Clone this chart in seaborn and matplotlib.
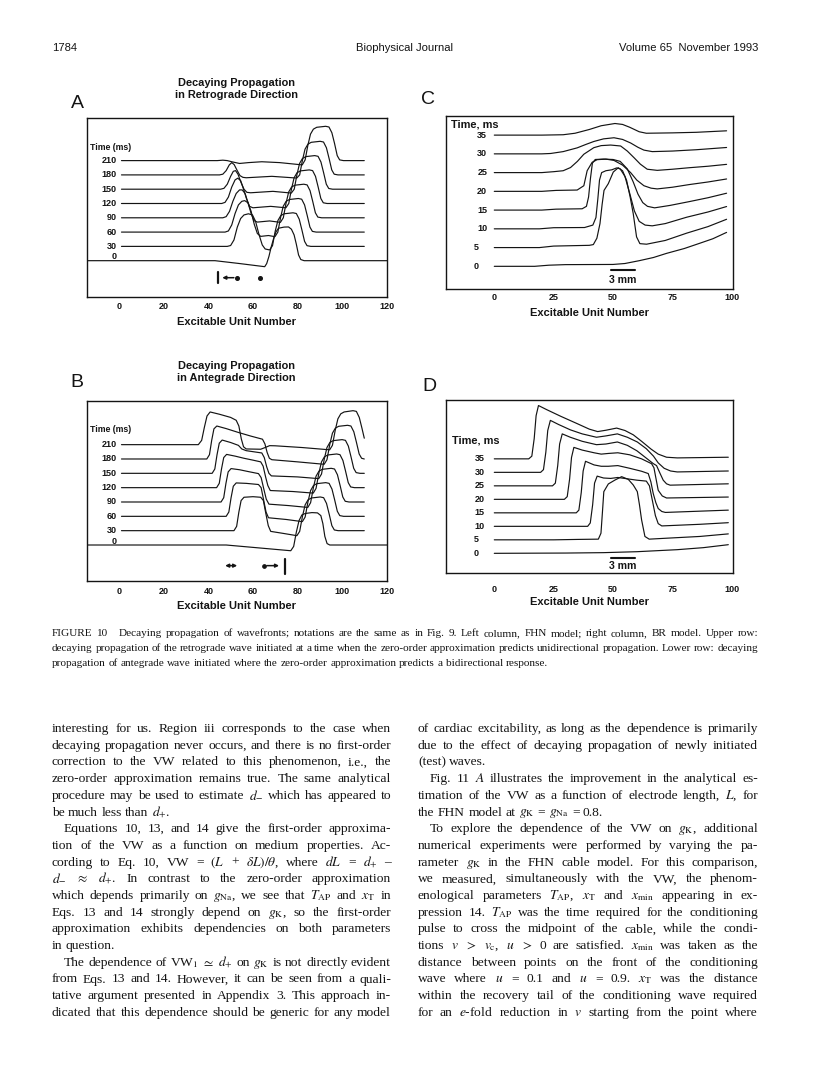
import numpy as np
import pandas as pd
import matplotlib
matplotlib.use('Agg')
import matplotlib.pyplot as plt
import seaborn as sns

W, H = 816, 1086
INK = '#141414'
SANS = ['Liberation Sans', 'DejaVu Sans']
SERIF = ['Liberation Serif', 'DejaVu Serif']

# ---------------- panel A: FHN, retrograde (x = unit, v = height above own baseline)
A_TIMES = ['0', '30', '60', '90', '120', '150', '180', '210']
A_0 = [(-14.7, 0), (43, 0), (54, -0.2), (65.3, -0.42), (66.2, -0.2), (67.2, 0.3), (68.2, 0.95),
       (69.3, 1.55), (70.3, 2.0), (71.5, 2.27), (74, 2.35), (76, 2.36), (77.3, 2.2), (78.5, 1.8),
       (79.5, 1.15), (80.5, 0.4), (81.5, 0.08), (83, 0), (120.2, 0)]
A_30 = [(1, 0), (48.5, 0), (50, 0.06), (51.5, 0.45), (53, 1.35), (54.5, 1.95), (56, 2.2), (58, 2.28),
        (59.8, 2.2), (61.2, 1.75), (62.7, 0.85), (64.2, 0.1), (65.5, -0.18), (67.5, -0.25), (68.8, 0.05),
        (70, 1.05), (71.2, 1.8), (72.5, 2.15), (74, 2.28), (78, 2.35), (79.5, 2.3), (80.8, 1.9), (82, 1.15),
        (83.2, 0.35), (84.3, 0.05), (86, 0), (110, 0)]
A_60 = [(1, 0), (47.5, 0), (49, 0.08), (50.5, 0.5), (52, 1.3), (53.5, 1.9), (55, 2.15), (56.3, 2.2),
        (57.8, 2.05), (59.2, 1.45), (60.6, 0.55), (62, -0.1), (63.5, -0.3), (67, -0.24), (69.9, -0.32),
        (71.2, 0.0), (72.4, 1.0), (73.6, 1.8), (74.9, 2.15), (76.4, 2.28), (80.4, 2.35), (81.9, 2.3),
        (83.2, 1.9), (84.4, 1.15), (85.6, 0.35), (86.7, 0.05), (88.4, 0), (110, 0)]
A_90 = [(1, 0), (46.5, 0), (48, 0.08), (49.5, 0.45), (51, 1.15), (52.5, 1.7), (54, 1.95), (55.2, 1.95),
        (56.5, 1.7), (57.8, 1.05), (59.2, 0.3), (60.5, -0.2), (62, -0.3), (67.5, -0.22), (72.35, -0.32),
        (73.65, 0.0), (74.85, 1.0), (76.05, 1.8), (77.35, 2.15), (78.85, 2.28), (82.85, 2.35),
        (84.35, 2.3), (85.65, 1.9), (86.85, 1.15), (88.05, 0.35), (89.15, 0.05), (90.85, 0), (110, 0)]
A_120 = [(1, 0), (46, 0), (47.5, 0.08), (49, 0.45), (50.5, 1.15), (52, 1.65), (53.2, 1.77), (54.5, 1.6),
         (55.8, 1.0), (57.2, 0.3), (58.5, -0.2), (60, -0.3), (68, -0.2), (74.8, -0.3), (76.1, 0.0),
         (77.3, 1.0), (78.5, 1.8), (79.8, 2.15), (81.3, 2.28), (85.3, 2.35), (86.8, 2.3), (88.1, 1.9),
         (89.3, 1.15), (90.5, 0.35), (91.6, 0.05), (93.3, 0), (110, 0)]
A_150 = [(1, 0), (45.5, 0), (47, 0.06), (48.5, 0.35), (50, 0.9), (51.2, 1.25), (52.2, 1.3), (53.3, 1.05),
         (54.6, 0.5), (56, 0.0), (57.3, -0.22), (59, -0.25), (69, -0.15), (77.25, -0.27), (78.55, 0.0),
         (79.75, 1.0), (80.95, 1.8), (82.25, 2.15), (83.75, 2.28), (87.75, 2.35), (89.25, 2.3),
         (90.55, 1.9), (91.75, 1.15), (92.95, 0.35), (94.05, 0.05), (95.75, 0), (110, 0)]
A_180 = [(1, 0), (45, 0), (46.5, 0.05), (48, 0.3), (49.4, 0.7), (50.5, 0.86), (51.6, 0.72), (52.8, 0.35),
         (54.2, -0.05), (55.5, -0.17), (57, -0.2), (68.5, -0.1), (79.7, -0.22), (81, 0.0), (82.2, 1.0),
         (83.4, 1.8), (84.7, 2.15), (86.2, 2.28), (90.2, 2.35), (91.7, 2.3), (93, 1.9), (94.2, 1.15),
         (95.4, 0.35), (96.5, 0.05), (98.2, 0), (110, 0)]
A_210 = [(1, 0), (44, 0), (46.5, 0.03), (48.5, 0.0), (50.5, -0.08), (54, -0.2), (58, -0.14), (64, -0.08),
         (72, -0.14), (82.15, -0.3), (83.45, 0.05), (84.65, 1.05), (85.85, 1.85), (87.15, 2.2),
         (88.65, 2.33), (92.65, 2.4), (94.15, 2.35), (95.45, 1.95), (96.65, 1.2), (97.85, 0.35),
         (98.95, 0.05), (100.65, 0), (110, 0)]

# ---------------- panel B: FHN, antegrade
B_0 = [(-14.7, 0), (48, 0), (77, -0.4), (78.3, -0.1), (79.5, 0.9), (80.7, 1.7), (82, 2.1), (83.5, 2.2),
       (86.5, 2.26), (89, 2.24), (90.5, 2.05), (91.4, 1.5), (92.3, 0.6), (93.3, 0.1), (94.5, 0), (120.2, 0)]
B_30 = [(1, 0), (51.5, 0), (52.7, 0.3), (53.7, 1.3), (54.7, 2.1), (56, 2.33), (60, 2.37), (63.5, 2.33),
        (64.7, 2.1), (65.8, 1.2), (66.9, 0.35), (68, -0.05), (74, -0.2), (79.75, -0.35), (81, -0.05),
        (82.25, 1.0), (83.45, 1.8), (84.75, 2.15), (86.25, 2.28), (90.25, 2.35), (91.75, 2.3),
        (93.05, 1.9), (94.25, 1.15), (95.45, 0.35), (96.55, 0.05), (98.25, 0), (110, 0)]
B_60 = [(1, 0), (48, 0), (49.2, 0.3), (50.2, 1.3), (51.2, 2.1), (52.5, 2.33), (57, 2.3), (62.5, 2.22),
        (63.7, 2.0), (64.8, 1.15), (65.9, 0.3), (67, -0.1), (75, -0.22), (82.2, -0.37), (83.45, -0.05),
        (84.7, 1.0), (85.9, 1.8), (87.2, 2.15), (88.7, 2.28), (92.7, 2.35), (94.2, 2.3), (95.5, 1.9),
        (96.7, 1.15), (97.9, 0.35), (99, 0.05), (100.7, 0), (110, 0)]
B_90 = [(1, 0), (45.7, 0), (46.9, 0.3), (47.9, 1.3), (48.9, 2.1), (50.2, 2.33), (54, 2.25), (58, 2.12),
        (62.5, 1.98), (63.7, 1.7), (64.9, 0.9), (66, 0.2), (67.2, -0.15), (76, -0.25), (84.65, -0.38),
        (85.9, -0.05), (87.15, 1.0), (88.35, 1.8), (89.65, 2.15), (91.15, 2.28), (95.15, 2.35),
        (96.65, 2.3), (97.95, 1.9), (99.15, 1.15), (100.35, 0.35), (101.45, 0.05), (103.15, 0), (110, 0)]
B_120 = [(1, 0), (43.7, 0), (44.9, 0.3), (45.9, 1.3), (46.9, 2.1), (48.2, 2.32), (52, 2.2), (56, 2.05),
         (60, 1.92), (63.5, 1.8), (64.6, 1.5), (65.7, 0.75), (66.7, 0.15), (67.8, -0.2), (78, -0.27),
         (87.1, -0.38), (88.35, -0.05), (89.6, 1.0), (90.8, 1.8), (92.1, 2.15), (93.6, 2.28), (97.6, 2.35),
         (99.1, 2.3), (100.4, 1.9), (101.6, 1.15), (102.8, 0.35), (103.9, 0.05), (105.6, 0), (110, 0)]
B_150 = [(1, 0), (41.7, 0), (42.9, 0.3), (43.9, 1.3), (44.9, 2.1), (46.2, 2.32), (50, 2.15), (53.5, 1.95),
         (55, 1.7), (57, 1.58), (64, 1.42), (65.1, 1.1), (66.2, 0.45), (67.2, 0.0), (68.3, -0.18),
         (80, -0.25), (89.55, -0.37), (90.8, -0.05), (92.05, 1.0), (93.25, 1.8), (94.55, 2.15),
         (96.05, 2.28), (100.05, 2.35), (101.55, 2.3), (102.85, 1.9), (104.05, 1.15), (105.25, 0.35),
         (106.35, 0.05), (108.05, 0), (110, 0)]
B_180 = [(1, 0), (39.3, 0), (40.5, 0.3), (41.5, 1.3), (42.5, 2.1), (43.8, 2.3), (48, 2.12), (53.5, 1.85),
         (59, 1.6), (64.3, 1.38), (65.4, 1.05), (66.4, 0.45), (67.4, 0.05), (68.5, -0.05), (80, -0.2),
         (92, -0.37), (93.25, -0.05), (94.5, 1.0), (95.7, 1.8), (97, 2.15), (98.5, 2.28), (102.5, 2.35),
         (104, 2.3), (105.3, 1.9), (106.5, 1.15), (107.7, 0.35), (108.8, 0.05), (110, 0)]
B_210 = [(1, 0), (35.5, 0), (37, 0.3), (38.2, 1.2), (39.4, 2.0), (40.8, 2.28), (45, 2.12), (50, 1.9),
         (52.5, 1.7), (53.7, 1.3), (54.8, 0.4), (55.8, -0.15), (57, -0.3), (63.5, -0.32), (65.5, -0.2),
         (67.5, -0.07), (70, -0.08), (82, -0.2), (94.45, -0.36), (95.7, -0.05), (96.95, 1.0),
         (98.15, 1.8), (99.45, 2.15), (100.95, 2.28), (104.95, 2.37), (106.45, 2.32), (107.75, 1.9),
         (108.95, 1.15), (110, 0.45)]

# ---------------- panel C: BR, retrograde
CD_TIMES = ['0', '5', '10', '15', '20', '25', '30', '35']
C_0 = [(0, 0), (17, 0), (23, 0.06), (30, 0.09), (50, 0.1), (55, 0.15), (61, 0.3), (67, 0.47),
       (72.5, 0.69), (80, 0.95), (86.5, 1.23), (92, 1.47), (97.8, 1.81)]
C_5 = [(0, 0), (19, 0), (25, 0.08), (40, 0.12), (41.7, 0.16), (43.2, 0.5), (44.5, 1.28), (45.4, 2.3),
       (46.2, 3.05), (48, 3.41), (50.1, 4.03), (52.2, 4.26), (54, 4.1), (55.7, 3.59), (57.2, 2.7),
       (58.5, 1.81), (59.9, 0.57), (61.3, 0.21), (64.1, 0.18), (72, 0.38), (81, 0.77), (90, 1.12),
       (97.8, 1.51)]
C_10 = [(0, 0), (19, 0), (25, 0.06), (38, 0.07), (41.5, 0.2), (42.8, 0.6), (43.6, 1.6), (44.3, 2.6),
        (45.2, 3.0), (47, 3.1), (49.5, 3.15), (51.5, 3.25), (53, 3.2), (55, 2.8), (57, 1.9), (59, 0.95),
        (61, 0.4), (63.5, 0.2), (66.5, 0.16), (72, 0.28), (81, 0.62), (90, 0.9), (97.8, 1.19)]
C_15 = [(0, 0), (20, 0), (26, 0.05), (37, 0.07), (38.8, 0.2), (39.7, 0.7), (40.5, 1.7), (41.3, 2.5),
        (42.5, 2.7), (46, 2.72), (50, 2.7), (53, 2.6), (56, 2.2), (58.5, 1.5), (60.5, 0.85), (62.5, 0.4),
        (64.5, 0.2), (67.5, 0.12), (74, 0.25), (82, 0.45), (90, 0.66), (97.8, 0.9)]
C_20 = [(0, 0), (20, 0), (26, 0.05), (34.9, 0.07), (37.7, 0.3), (39.1, 1.1), (41.2, 1.55), (43.3, 1.69),
        (47, 1.72), (50.4, 1.65), (54, 1.4), (57.4, 1.0), (60, 0.6), (63, 0.3), (66, 0.17), (68.6, 0.13),
        (75, 0.22), (82, 0.36), (90, 0.5), (97.8, 0.66)]
C_25 = [(0, 0), (20, 0), (25.1, 0.05), (29, 0.1), (32.1, 0.27), (35, 0.6), (37.7, 0.98), (41.9, 1.33),
        (45, 1.44), (49, 1.47), (53.2, 1.42), (56, 1.15), (58.8, 0.8), (61.5, 0.45), (64.4, 0.18),
        (68.6, 0.12), (75, 0.18), (82, 0.26), (90, 0.34), (97.8, 0.44)]
C_30 = [(0, 0), (20, 0), (23.7, 0.02), (29, 0.12), (34.9, 0.32), (38.5, 0.5), (41.9, 0.66), (46, 0.8),
        (50.4, 0.86), (54, 0.77), (57.4, 0.58), (60.5, 0.35), (63, 0.2), (66.5, 0.12), (75, 0.15),
        (85, 0.22), (97.8, 0.34)]
C_35 = [(0, 0), (20, 0), (29, 0.02), (34, 0.1), (40, 0.3), (45, 0.5), (50.8, 0.62), (54, 0.57),
        (57, 0.42), (61, 0.18), (64, 0.1), (75, 0.12), (85, 0.15), (97.8, 0.23)]

# ---------------- panel D: BR, antegrade
D_0 = [(0, 0), (30, 0.02), (46, 0.05), (60, 0.12), (77, 0.27), (88, 0.42), (98.5, 0.64)]
D_5 = [(0, 0), (25, 0), (35, 0.03), (43.8, 0.05), (44.9, 0.49), (45.5, 2.0), (46.1, 3.57), (48, 4.14),
       (50.8, 4.43), (53.6, 4.68), (56.4, 4.48), (58.5, 4.06), (60.2, 3.57), (61.1, 2.6), (62, 1.48),
       (63.4, 0.25), (65.2, 0.05), (72.5, 0.12), (86.5, 0.25), (98.5, 0.44)]
D_10 = [(0, 0), (39.3, 0), (40.4, 0.25), (41.4, 1.6), (42.2, 3.2), (43.3, 3.72), (46, 3.58), (49, 3.55),
        (52, 3.62), (56, 3.52), (60, 3.42), (64, 3.35), (65.3, 3.0), (66.5, 1.95), (67.8, 0.8),
        (69, 0.2), (70.5, 0.03), (86.5, 0.15), (98.5, 0.27)]
D_15 = [(0, 0), (34.5, 0), (35.6, 0.2), (36.6, 1.5), (37.4, 3.1), (38.4, 3.82), (42, 3.55), (45, 3.45),
        (48, 3.45), (52, 3.5), (57, 3.3), (62, 3.08), (64.8, 2.91), (65.9, 2.3), (66.9, 1.43), (68, 0.75),
        (69, 0.32), (70.5, 0.1), (72, 0.03), (98.5, 0.2)]
D_20 = [(0, 0), (29.5, 0), (30.7, 0.2), (31.7, 1.5), (32.5, 3.1), (33.5, 3.85), (37, 3.65), (42, 3.45),
        (45, 3.35), (48, 3.4), (52, 3.45), (57, 3.3), (62, 3.0), (66.2, 2.64), (67.2, 2.34), (68.1, 1.5),
        (69, 0.67), (70.7, 0.25), (72.5, 0.1), (98.5, 0.17)]
D_25 = [(0, 0), (24.5, 0), (25.7, 0.2), (26.7, 1.5), (27.5, 3.1), (28.6, 3.85), (32, 3.6), (37, 3.3),
        (43, 3.05), (47, 3.1), (51.8, 3.25), (56, 3.0), (60, 2.6), (64, 2.05), (66.9, 1.65), (68.3, 1.5),
        (69.7, 0.95), (71.1, 0.42), (72.5, 0.15), (74, 0.05), (98.5, 0.15)]
D_30 = [(0, 0), (19.5, 0), (20.7, 0.2), (21.7, 1.5), (22.5, 3.1), (23.6, 3.85), (27, 3.55), (32, 3.15),
        (37, 2.85), (43, 2.6), (47, 2.7), (51.8, 2.85), (56, 2.6), (60.2, 2.25), (64, 1.75), (67, 1.2),
        (69, 0.7), (71.5, 0.3), (74.2, 0.1), (77, 0.03), (98.5, 0.1)]
D_35 = [(0, 0), (14.5, 0), (15.8, 0.2), (16.8, 1.5), (17.6, 3.2), (18.6, 3.95), (22, 3.65), (28, 3.15),
        (35, 2.6), (40, 2.2), (43.5, 2.02), (47, 2.12), (51.5, 2.28), (55, 2.1), (58.5, 1.78), (62, 1.3),
        (66, 0.72), (69, 0.35), (72.5, 0.12), (77, 0.07), (98.5, 0.12)]

A_TRACES = [A_0, A_30, A_60, A_90, A_120, A_150, A_180, A_210]
B_TRACES = [B_0, B_30, B_60, B_90, B_120, B_150, B_180, B_210]
C_TRACES = [C_0, C_5, C_10, C_15, C_20, C_25, C_30, C_35]
D_TRACES = [D_0, D_5, D_10, D_15, D_20, D_25, D_30, D_35]

FHN_TICKS = [0, 20, 40, 60, 80, 100, 120]
BR_TICKS = [0, 25, 50, 75, 100]

HEADER = ['1784', 'Biophysical Journal', 'Volume 65  November 1993']
CAPTION = [
    "FIGURE 10   Decaying propagation of wavefronts; notations are the same as in Fig. 9. Left column, FHN model; right column, BR model. Upper row:",
    "decaying propagation of the retrograde wave initiated at a time when the zero-order approximation predicts unidirectional propagation. Lower row: decaying",
    "propagation of antegrade wave initiated where the zero-order approximation predicts a bidirectional response.",
]
LEFT_COL = [
    "interesting for us. Region iii corresponds to the case when",
    "decaying propagation never occurs, and there is no first-order",
    "correction to the VW related to this phenomenon, i.e., the",
    "zero-order approximation remains true. The same analytical",
    "procedure may be used to estimate $d_{-}$ which has appeared to",
    "be much less than $d_{+}$.",
    "Equations 10, 13, and 14 give the first-order approxima-",
    "tion of the VW as a function on medium properties. Ac-",
    "cording to Eq. 10, VW = $(L$ + $\\delta{L})/\\theta$, where $dL$ = $d_{+}$ \u2013",
    "$d_{-}$ $\\approx$ $d_{+}$. In contrast to the zero-order approximation",
    "which depends primarily on $g_{\\mathrm{Na}}$, we see that $T_{\\mathrm{AP}}$ and $x_{\\mathrm{T}}$ in",
    "Eqs. 13 and 14 strongly depend on $g_{\\mathrm{K}}$, so the first-order",
    "approximation exhibits dependencies on both parameters",
    "in question.",
    "The dependence of VW$_1$ $\\simeq$ $d_{+}$ on $g_{\\mathrm{K}}$ is not directly evident",
    "from Eqs. 13 and 14. However, it can be seen from a quali-",
    "tative argument presented in Appendix 3. This approach in-",
    "dicated that this dependence should be generic for any model",
]
RIGHT_COL = [
    "of cardiac excitability, as long as the dependence is primarily",
    "due to the effect of decaying propagation of newly initiated",
    "(test) waves.",
    "Fig. 11 $A$ illustrates the improvement in the analytical es-",
    "timation of the VW as a function of electrode length, $L$, for",
    "the FHN model at $g_{\\mathrm{K}}$ = $g_{\\mathrm{Na}}$ = 0.8.",
    "To explore the dependence of the VW on $g_{\\mathrm{K}}$, additional",
    "numerical experiments were performed by varying the pa-",
    "rameter $g_{\\mathrm{K}}$ in the FHN cable model. For this comparison,",
    "we measured, simultaneously with the VW, the phenom-",
    "enological parameters $T_{\\mathrm{AP}}$, $x_{\\mathrm{T}}$ and $x_{\\mathrm{min}}$ appearing in ex-",
    "pression 14. $T_{\\mathrm{AP}}$ was the time required for the conditioning",
    "pulse to cross the midpoint of the cable, while the condi-",
    "tions $v$ $>$ $v_{\\mathrm{c}}$, $u$ $>$ 0 are satisfied. $x_{\\mathrm{min}}$ was taken as the",
    "distance between points on the front of the conditioning",
    "wave where $u$ = 0.1 and $u$ = 0.9. $x_{\\mathrm{T}}$ was the distance",
    "within the recovery tail of the conditioning wave required",
    "for an $e$-fold reduction in $v$ starting from the point where",
]
LEFT_INDENT, LEFT_RAGGED = {6, 14}, {5, 13}
RIGHT_INDENT, RIGHT_RAGGED = {3, 6}, {2, 5}

sns.set_style('white')
plt.rcParams['font.family'] = SANS
plt.rcParams['mathtext.fontset'] = 'stix'
plt.rcParams['axes.edgecolor'] = INK
plt.rcParams['axes.linewidth'] = 1.0

fig = plt.figure(figsize=(W / 100, H / 100), dpi=100)
fig.patch.set_facecolor('white')


def px_axes(l, t, r, b):
    return fig.add_axes([l / W, 1 - b / H, (r - l) / W, (b - t) / H])


def draw_panel(ax, traces, labels, xlim, ylim, ticks, tick_gap, label_y, ticks_in):
    rows = []
    for k, tr in enumerate(traces):
        for u, v in tr:
            rows.append((k, u, k + v))
    df = pd.DataFrame(rows, columns=['trace', 'unit', 'level'])
    sns.lineplot(data=df, x='unit', y='level', units='trace', estimator=None, sort=False,
                 color=INK, lw=0.85, ax=ax, legend=False)
    ax.set_xlim(*xlim)
    ax.set_ylim(*ylim)
    ax.set_yticks([])
    ax.set_xticks(ticks)
    ax.set_xticklabels([str(t) for t in ticks], fontsize=6.5, fontweight='bold', color=INK)
    ax.tick_params(axis='x', direction='in', length=2.2 if ticks_in else 0, width=0.8,
                   color=INK, pad=(tick_gap - 5) * 0.72)
    ax.set_ylabel('')
    ax.set_xlabel('Excitable Unit Number', fontsize=8, fontweight='bold', color=INK)
    ax.xaxis.set_label_coords(0.5, label_y)
    ax.xaxis.label.set_va('center')
    for s in ax.spines.values():
        s.set_visible(True)
        s.set_color(INK)
        s.set_linewidth(1.0)


# ---- panel A
axA = px_axes(86.5, 118, 387, 297)
draw_panel(axA, A_TRACES, A_TIMES, (-14.7, 120.2), (-2.54, 9.98), FHN_TICKS, 10, -0.14, True)
for k, lab in enumerate(A_TIMES):
    axA.text(-1.2, k + (0.28 if k == 0 else 0), lab, ha='right', va='center', fontsize=6.5,
             fontweight='bold', color=INK)
axA.text(-13.1, 7.93, 'Time (ms)', ha='left', va='center', fontsize=6.3, fontweight='bold', color=INK)
axA.plot([44.2, 44.2], [-0.77, -1.59], color=INK, lw=1.6)
axA.annotate('', xy=(45.0, -1.19), xytext=(52.7, -1.19),
             arrowprops=dict(arrowstyle='-|>', color=INK, lw=1.1, mutation_scale=5))
axA.plot([52.7, 63.0], [-1.19, -1.19], 'o', color=INK, ms=2.6)

# ---- panel B
axB = px_axes(86.5, 401.5, 387, 580.7)
draw_panel(axB, B_TRACES, A_TIMES, (-14.7, 120.2), (-2.49, 10.01), FHN_TICKS, 11.6, -0.14, True)
for k, lab in enumerate(A_TIMES):
    axB.text(-1.2, k + (0.26 if k == 0 else 0), lab, ha='right', va='center', fontsize=6.5,
             fontweight='bold', color=INK)
axB.text(-13.1, 8.09, 'Time (ms)', ha='left', va='center', fontsize=6.3, fontweight='bold', color=INK)
axB.annotate('', xy=(46.3, -1.44), xytext=(54.2, -1.44),
             arrowprops=dict(arrowstyle='<|-|>', color=INK, lw=1.1, mutation_scale=5))
axB.annotate('', xy=(73.0, -1.44), xytext=(65.0, -1.44),
             arrowprops=dict(arrowstyle='-|>', color=INK, lw=1.1, mutation_scale=5))
axB.plot([65.0], [-1.44], 'o', color=INK, ms=2.4)
axB.plot([74.4, 74.4], [-0.95, -2.0], color=INK, lw=1.6)

# ---- panel C
axC = px_axes(445.7, 116, 733, 289)
draw_panel(axC, C_TRACES, CD_TIMES, (-20.45, 100.5), (-1.21, 8.02), BR_TICKS, 9.3, -0.14, False)
for k, lab in enumerate(CD_TIMES):
    xr = -3.0 if len(lab) == 2 else -6.4
    axC.text(xr, k, lab, ha='right', va='center', fontsize=6.5, fontweight='bold', color=INK)
axC.text(-18.35, 7.57, 'Time, ms', ha='left', va='center', fontsize=7.9, fontweight='bold', color=INK)
axC.plot([49.0, 59.2], [-0.2, -0.2], color=INK, lw=1.5)
axC.text(54.1, -0.75, '3 mm', ha='center', va='center', fontsize=7.6, fontweight='bold', color=INK)

# ---- panel D
axD = px_axes(445.7, 400, 733.3, 573.3)
draw_panel(axD, D_TRACES, CD_TIMES, (-20.45, 100.6), (-1.48, 11.36), BR_TICKS, 16.5, -0.165, False)
for k, lab in enumerate(CD_TIMES):
    xr = -4.1 if len(lab) == 2 else -6.4
    axD.text(xr, k, lab, ha='right', va='center', fontsize=6.5, fontweight='bold', color=INK)
axD.text(-17.9, 8.39, 'Time, ms', ha='left', va='center', fontsize=7.9, fontweight='bold', color=INK)
axD.plot([49.0, 59.3], [-0.37, -0.37], color=INK, lw=1.5)
axD.text(54.1, -0.94, '3 mm', ha='center', va='center', fontsize=7.6, fontweight='bold', color=INK)


def ftext(x, y, s, **kw):
    return fig.text(x / W, 1 - y / H, s, color=INK, **kw)


# panel letters and titles
for letter, (x, y) in zip('ABCD', [(77, 103.5), (77, 383), (428, 100), (429, 387)]):
    ftext(x, y, letter, ha='center', va='center', fontsize=14)
for y0, second in [(82.7, 'in Retrograde Direction'), (366.2, 'in Antegrade Direction')]:
    ftext(236.7, y0, 'Decaying Propagation', ha='center', va='center', fontsize=7.9, fontweight='bold')
    ftext(236.7, y0 + 11.8, second, ha='center', va='center', fontsize=7.9, fontweight='bold')

# running header
ftext(52, 48, HEADER[0], ha='left', va='center', fontsize=8.1)
ftext(405, 48, HEADER[1], ha='center', va='center', fontsize=8.1)
ftext(758, 48, HEADER[2], ha='right', va='center', fontsize=8.1)

renderer = fig.canvas.get_renderer()


def set_line(line, x0, x1, ybase, size, fill=True, indent=0.0):
    items = []
    for w in line.split(' '):
        if w == '':
            items.append((None, 0.0))
            continue
        t = fig.text(0, 0, w, fontsize=size, family=SERIF, va='baseline', ha='left', color=INK)
        items.append((t, t.get_window_extent(renderer=renderer).width))
    total = sum(wd for _, wd in items)
    gaps = len(items) - 1
    gap = (x1 - x0 - indent - total) / gaps if (fill and gaps > 0) else 0.25 * size * 100 / 72
    x = x0 + indent
    for t, wd in items:
        if t is not None:
            t.set_position((x / W, 1 - ybase / H))
        x += wd + gap


for i, line in enumerate(CAPTION):
    set_line(line, 52, 758, 636.5 + 14.5 * i, 8.1, fill=(i < len(CAPTION) - 1))

for i, line in enumerate(LEFT_COL):
    set_line(line, 52, 391, 732 + 16.7 * i, 9.7, fill=(i not in LEFT_RAGGED),
             indent=12 if i in LEFT_INDENT else 0)
for i, line in enumerate(RIGHT_COL):
    set_line(line, 418, 758, 732 + 16.7 * i, 9.7, fill=(i not in RIGHT_RAGGED),
             indent=12 if i in RIGHT_INDENT else 0)

fig.savefig('out.png', dpi=100, facecolor='white')
